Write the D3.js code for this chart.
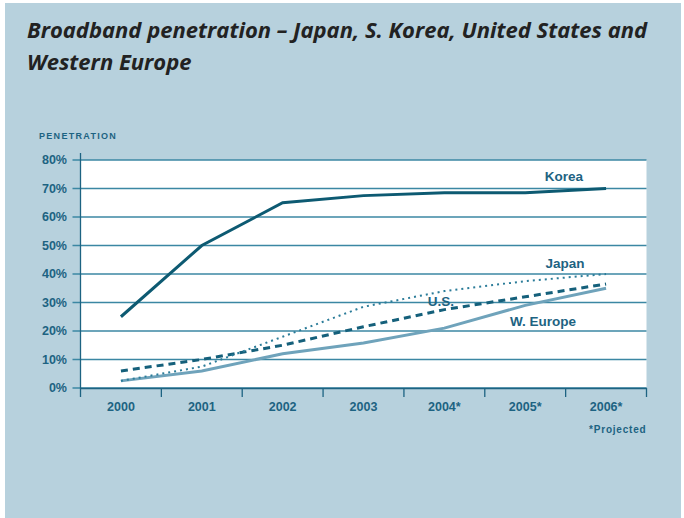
<!DOCTYPE html>
<meta charset="utf-8">
<style>
body { margin: 0; background: #fff; }
text { font-family: "Liberation Sans", Arial, sans-serif; }
.axis text { fill: #1d6382; font-weight: bold; font-size: 12.5px; }
.grid line { stroke: #3b87a3; stroke-width: 1.3px; }
.lbl { fill: #1d6382; font-weight: bold; font-size: 13.5px; }
</style>
<svg width="684" height="518"></svg>
<script src="https://cdnjs.cloudflare.com/ajax/libs/d3/7.8.5/d3.min.js"></script>
<script>

var years = ["2000", "2001", "2002", "2003", "2004*", "2005*", "2006*"];
var yTicks = [0, 0.1, 0.2, 0.3, 0.4, 0.5, 0.6, 0.7, 0.8];

var korea   = [0.25, 0.50, 0.65, 0.675, 0.685, 0.685, 0.70];
var japan   = [0.025, 0.075, 0.18, 0.285, 0.34, 0.375, 0.40];
var us      = [0.06, 0.10, 0.15, 0.215, 0.275, 0.32, 0.365];
var weurope = [0.025, 0.06, 0.12, 0.158, 0.21, 0.29, 0.35];

var series = [
  {name: "W. Europe", values: weurope, color: "#6fa3bb", width: 3, dash: null, lx: 543, ly: 326},
  {name: "U.S.", values: us, color: "#15607b", width: 3, dash: "7,5", lx: 441, ly: 306},
  {name: "Japan", values: japan, color: "#2b7c99", width: 2, dash: "2,4", lx: 565, ly: 268},
  {name: "Korea", values: korea, color: "#0d5a72", width: 3, dash: null, lx: 564, ly: 181}
];

var svg = d3.select("svg");

// background
svg.append("rect")
    .attr("x", 5).attr("y", 3).attr("width", 676).attr("height", 515)
    .attr("fill", "#b7d1dd");

var titleLines = ["Broadband penetration \u2013 Japan, S. Korea, United States and", "Western Europe"];
svg.selectAll(".title")
  .data(titleLines)
  .join("text")
    .attr("class", "title")
    .attr("x", 27).attr("y", (d, i) => 38 + i * 32)
    .attr("font-size", 22).attr("font-weight", "bold").attr("font-style", "italic")
    .attr("fill", "#222")
    .style("font-family", "'Open Sans', sans-serif")
    .text(d => d);

var mLeft = 80.5, mRight = 646.5, mTop = 160, mBottom = 388;

var x = d3.scaleBand().domain(years).range([mLeft, mRight]).padding(0);
var y = d3.scaleLinear().domain([0, 0.8]).range([mBottom, mTop]);

svg.append("rect")
    .attr("x", mLeft).attr("y", mTop)
    .attr("width", mRight - mLeft).attr("height", mBottom - mTop)
    .attr("fill", "#fff");

svg.append("text")
    .attr("x", 39).attr("y", 139)
    .attr("font-size", 9).attr("font-weight", "bold")
    .attr("letter-spacing", 1.3)
    .attr("fill", "#1d6382")
    .text("PENETRATION");

// gridlines with left ticks
var grid = svg.append("g").attr("class", "grid");
grid.selectAll("line")
  .data(yTicks)
  .join("line")
    .attr("x1", mLeft - 8).attr("x2", mRight)
    .attr("y1", d => y(d)).attr("y2", d => y(d));

var yAxis = svg.append("g").attr("class", "axis");
yAxis.selectAll("text")
  .data(yTicks)
  .join("text")
    .attr("x", 67).attr("y", d => y(d) + 4)
    .attr("text-anchor", "end")
    .text(d3.format(".0%"));

// left axis line
svg.append("line")
    .attr("x1", mLeft).attr("x2", mLeft)
    .attr("y1", mTop - 7).attr("y2", mBottom)
    .attr("stroke", "#1d6382").attr("stroke-width", 1.3);

// x axis
var xa = svg.append("g")
    .attr("class", "axis")
    .attr("transform", "translate(0," + mBottom + ")")
    .call(d3.axisBottom(x).tickSize(0).tickPadding(14));
xa.select(".domain").attr("stroke", "#1d6382").attr("stroke-width", 1.5);
xa.selectAll(".tick text").attr("font-family", null).attr("font-size", null);

var edges = years.map(d => x(d)).concat([mRight]);
xa.selectAll(".edge")
  .data(edges)
  .join("line")
    .attr("class", "edge")
    .attr("x1", d => d).attr("x2", d => d)
    .attr("y1", 0).attr("y2", 9)
    .attr("stroke", "#1d6382").attr("stroke-width", 1.3);

svg.append("text")
    .attr("x", mRight).attr("y", 433)
    .attr("text-anchor", "end")
    .attr("font-size", 10).attr("font-weight", "bold")
    .attr("letter-spacing", 0.8)
    .attr("fill", "#1d6382")
    .text("*Projected");

var line = d3.line()
    .x((d, i) => x(years[i]) + x.bandwidth() / 2)
    .y(d => y(d));

svg.selectAll(".series")
  .data(series)
  .join("path")
    .attr("class", "series")
    .attr("d", d => line(d.values))
    .attr("fill", "none")
    .attr("stroke", d => d.color)
    .attr("stroke-width", d => d.width)
    .attr("stroke-dasharray", d => d.dash);

svg.selectAll(".lbl")
  .data(series)
  .join("text")
    .attr("class", "lbl")
    .attr("x", d => d.lx).attr("y", d => d.ly)
    .attr("text-anchor", "middle")
    .text(d => d.name);

</script>
